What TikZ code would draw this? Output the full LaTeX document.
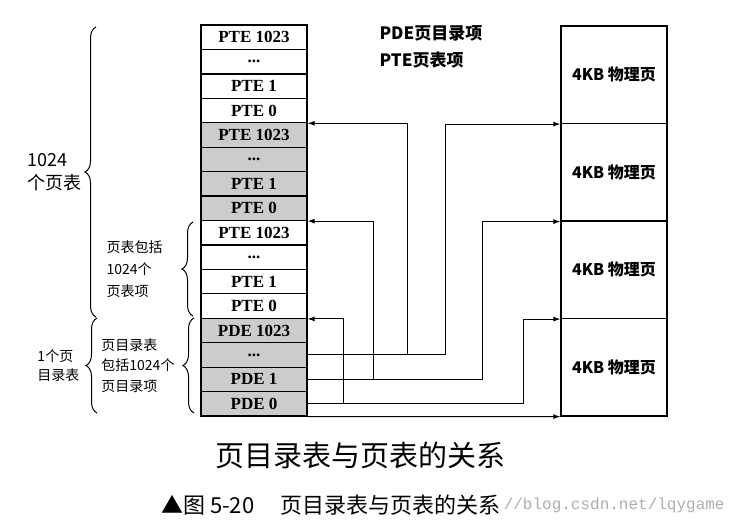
\documentclass[tikz,border=0pt]{standalone}
\usepackage{fontspec}
\newfontfamily\cjk{Noto Sans CJK SC}
\newfontfamily\wmfont{Liberation Mono}
\newfontfamily\cellfont{Liberation Serif}
\usetikzlibrary{arrows.meta,decorations.pathreplacing}

\begin{document}
\begin{tikzpicture}[x=1pt,y=-1pt,
  cell/.style={draw, line width=1.2pt, minimum width=106pt, minimum height=24.44pt, inner sep=0pt, font=\cellfont\bfseries\fontsize{17}{18}\selectfont},
  shaded/.style={cell, fill=black!20},
  page/.style={draw, line width=1.2pt, minimum width=106pt, minimum height=97.5pt, inner sep=0pt, font=\cjk\bfseries\fontsize{16}{18}\selectfont},
  wire/.style={line width=1pt},
  link/.style={wire, -{Latex[length=7pt,width=5pt]}},
  grp/.style={decorate, decoration={brace, amplitude=11pt}, line width=1pt},
  note/.style={font=\cjk\fontsize{14}{22}\selectfont, align=left, inner sep=0pt}]

\useasboundingbox (0,0) rectangle (742,529);

% page tables and the page directory
\node [cell] (c1) at (254,37.2) {PTE 1023};
\node [cell] (c2) at (254,61.7) {...};
\node [cell] (c3) at (254,86.1) {PTE 1};
\node [cell] (c4) at (254,110.5) {PTE 0};
\node [shaded] (c5) at (254,135.0) {PTE 1023};
\node [shaded] (c6) at (254,159.4) {...};
\node [shaded] (c7) at (254,183.9) {PTE 1};
\node [shaded] (c8) at (254,208.3) {PTE 0};
\node [cell] (c9) at (254,232.8) {PTE 1023};
\node [cell] (c10) at (254,257.2) {...};
\node [cell] (c11) at (254,281.6) {PTE 1};
\node [cell] (c12) at (254,306.1) {PTE 0};
\node [shaded] (c13) at (254,330.5) {PDE 1023};
\node [shaded] (c14) at (254,355.0) {...};
\node [shaded] (c15) at (254,379.4) {PDE 1};
\node [shaded] (c16) at (254,403.8) {PDE 0};

% physical pages
\node [page] (p1) at (614,74.75) {4KB 物理页};
\node [page] (p2) at (614,172.25) {4KB 物理页};
\node [page] (p3) at (614,269.75) {4KB 物理页};
\node [page] (p4) at (614,367.25) {4KB 物理页};

\node [anchor=west, font=\cjk\bfseries\fontsize{17}{27}\selectfont, align=left] (key) at (376,46.5) {PDE页目录项\\PTE页表项};

% pointers
\draw [link] (c14.east) -- ++(138,0) |- (p1.south west);
\draw [link] ([xshift=100pt]c14.east) |- (c4.south east);
\draw [link] (c15.east) -- ++(175,0) |- (p2.south west);
\draw [link] ([xshift=66pt]c15.east) |- (c8.south east);
\draw [link] (c16.east) -- ++(216,0) |- (p3.south west);
\draw [link] ([xshift=36pt]c16.east) |- (c12.south east);
\draw [link] (c16.south east) -- (p4.south west);

% braces
\draw [grp] (96,317) -- (96,27) node [midway, left=14pt, note, font=\cjk\fontsize{18}{23}\selectfont] (n1) {1024\\个页表};
\draw [grp] (193,316) -- (193,222) node [midway, left=30pt, note] (n2) {页表包括\\1024个\\页表项};
\draw [grp] (194,413) -- (194,318) node [midway, left=19pt, note, font=\cjk\fontsize{14}{20.5}\selectfont] (n3) {页目录表\\包括1024个\\页目录项};
\draw [grp] (97,413) -- (97,318) node [midway, left=17pt, note, font=\cjk\fontsize{14}{19}\selectfont] (n4) {1个页\\目录表};

% titles
\node [font=\cjk\fontsize{29}{32}\selectfont] (title) at (360,455) {页目录表与页表的关系};
\node [anchor=west, font=\cjk\fontsize{22}{24}\selectfont, inner sep=0pt] (cap) at (161,505) {▲图 5-20\hspace{26pt}页目录表与页表的关系};
\node [anchor=west, font=\wmfont\fontsize{16}{18}\selectfont, text=black!32, inner sep=0pt] (mark) at ([xshift=3pt]cap.east) {//blog.csdn.net/lqygame};

\end{tikzpicture}
\end{document}
